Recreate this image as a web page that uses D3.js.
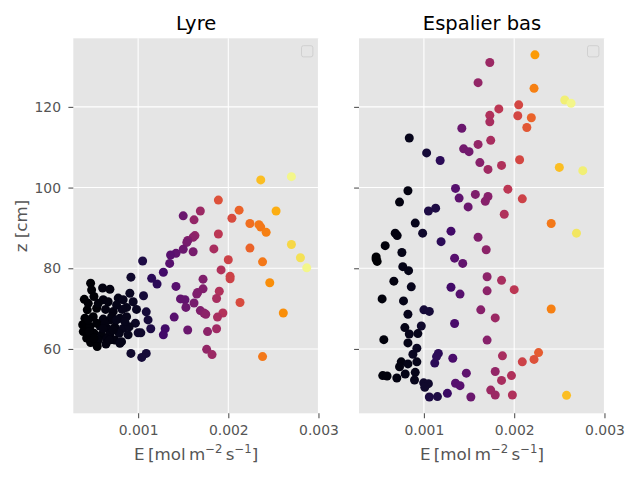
<!DOCTYPE html>
<html><head><meta charset="utf-8">
<script src="https://cdn.jsdelivr.net/npm/d3@7"></script>
<style>body{margin:0;background:#fff}</style>
</head><body><svg id="c" width="640" height="480"></svg>
<script>
// ---- data ----
const titles = ["Lyre", "Espalier bas"];
const xTicks = [0.001, 0.002, 0.003];
const yTicks = [60, 80, 100, 120];
const eDomain = [0.000281, 0.003006];
const zDomain = [44.05, 137.0];

// Lyre: E, z, colour value (0..1)
const lyreE = [0.00236,0.00270,0.00189,0.00169,0.00150,0.00162,0.00212,0.00204,0.00253,0.00224,0.00234,0.00236,0.00242,0.00163,0.00161,0.00155,0.00154,0.00189,0.00150,0.00142,0.00136,0.00161,0.00184,0.00224,0.00270,0.00280,0.00287,0.00238,0.00200,0.00135,0.00105,0.00192,0.00202,0.00202,0.00246,0.00128,0.00092,0.00115,0.00121,0.00172,0.00142,0.00172,0.00166,0.00165,0.00190,0.00187,0.00213,0.00147,0.00152,0.00162,0.00153,0.00169,0.00173,0.00175,0.00194,0.00188,0.00261,0.00140,0.00187,0.00177,0.00155,0.00130,0.00128,0.00114,0.00176,0.00182,0.00238,0.00092,0.00109,0.00104,0.00100,0.00103,0.00097,0.00111,0.00109,0.00106,
0.000473,0.000484,0.000606,0.000687,0.000403,0.000510,0.000613,0.000668,0.000779,0.000834,0.000908,0.000945,0.000872,0.000982,0.000436,0.000540,0.000639,0.000724,0.000823,0.000410,0.000502,0.000613,0.000695,0.000798,0.000872,0.000385,0.000466,0.000576,0.000657,0.000742,0.000834,0.000901,0.000392,0.000510,0.000595,0.000687,0.000790,0.000889,0.000429,0.000558,0.000650,0.000742,0.000816,0.000473,0.000546,0.000643,0.000798,0.000447,0.000558,0.000761,0.000706,0.000447,0.000540,0.000632,0.000761,0.000853,0.000458,0.000724,0.000613,0.000680,0.000510];
const lyreZ = [101.9,102.7,96.9,94.2,93.0,92.0,94.4,92.4,94.2,91.1,90.8,90.2,88.9,88.1,87.7,86.9,86.4,88.5,84.7,83.7,83.3,84.1,84.8,85.0,85.9,82.6,80.1,81.6,82.1,81.2,81.8,79.6,78.0,77.4,76.4,79.0,77.8,77.5,76.1,77.3,75.5,74.9,74.0,73.6,74.3,72.5,71.5,72.4,72.2,71.4,70.3,69.5,68.9,68.6,68.9,67.9,68.9,67.9,65.0,64.3,64.7,65.0,63.5,65.0,59.9,58.6,58.1,58.9,58.9,57.9,64.0,64.0,66.4,67.2,69.2,73.2,
76.3,74.6,75.1,74.8,72.3,73.0,72.2,71.7,72.6,72.2,73.8,71.7,70.3,69.8,69.7,70.1,69.8,69.3,69.8,67.6,68.0,67.4,67.2,67.6,68.0,66.0,65.5,65.7,65.1,65.4,65.1,65.5,64.3,63.9,63.5,63.7,63.9,63.5,62.7,62.2,62.4,62.2,61.8,61.6,60.6,61.2,61.4,71.3,71.3,70.9,68.0,67.2,66.4,66.4,67.2,66.8,64.3,64.7,65.1,62.2,62.7];
const lyreC = [0.85,0.97,0.60,0.42,0.30,0.40,0.65,0.58,0.82,0.68,0.70,0.70,0.72,0.40,0.38,0.35,0.33,0.50,0.30,0.27,0.25,0.33,0.45,0.65,0.90,0.92,0.97,0.70,0.55,0.25,0.12,0.47,0.55,0.55,0.75,0.20,0.08,0.15,0.15,0.35,0.25,0.35,0.35,0.35,0.47,0.45,0.58,0.28,0.28,0.33,0.30,0.35,0.37,0.38,0.48,0.45,0.75,0.25,0.43,0.38,0.30,0.20,0.20,0.12,0.40,0.42,0.70,0.08,0.10,0.10,0.08,0.08,0.07,0.10,0.10,0.10,
0.01,0.01,0.03,0.03,0.00,0.01,0.03,0.03,0.04,0.05,0.06,0.06,0.05,0.06,0.00,0.01,0.03,0.03,0.05,0.00,0.01,0.03,0.03,0.04,0.05,0.00,0.01,0.02,0.03,0.03,0.05,0.05,0.00,0.01,0.02,0.03,0.04,0.05,0.00,0.02,0.03,0.03,0.04,0.01,0.01,0.03,0.04,0.01,0.02,0.04,0.03,0.01,0.01,0.03,0.04,0.05,0.01,0.03,0.03,0.03,0.01];

// Espalier bas: E, z, colour value (0..1)
const espE = [0.00223,0.00173,0.00160,0.00222,0.00256,0.00263,0.00205,0.00183,0.00204,0.00173,0.00173,0.00219,0.00214,0.00142,0.000838,0.00174,0.00160,0.00144,0.00150,0.00103,0.00118,0.00206,0.00162,0.00186,0.00171,0.00250,0.00276,0.000823,0.00135,0.00193,0.00157,0.00139,0.00171,0.00168,0.00209,0.000730,0.00105,0.00113,0.00149,0.00189,0.00241,0.000904,0.00269,0.000682,0.000704,0.000986,0.00130,0.00119,0.00160,0.000571,0.000756,0.00169,0.000471,0.000482,0.000470,0.00134,0.00143,0.000766,0.000830,0.00170,0.00186,0.000667,0.000860,0.00130,0.00140,0.00170,0.00200,0.000537,0.000774,0.00100,0.00106,0.00163,0.00241,0.000823,0.00179,0.00134,0.000971,0.000789,0.000838,0.000933,0.000556,0.000823,0.00170,0.000922,0.000878,0.00116,0.00112,0.00114,0.00132,0.00187,0.00227,0.00222,0.00209,0.000749,0.000730,0.000823,0.000922,0.000793,0.000904,0.000896,0.000544,0.000592,0.000700,0.000997,0.00102,0.00105,0.00101,0.00106,0.00115,0.00126,0.00135,0.00140,0.00147,0.00152,0.00179,0.00197,0.00186,0.00174,0.00179,0.00198,0.00258];
const espZ = [132.9,131.0,126.0,124.6,121.7,120.9,120.5,119.5,117.8,117.9,116.3,117.3,114.9,114.7,112.3,111.7,110.7,109.6,108.9,108.6,106.7,106.9,106.2,105.5,104.5,105.0,104.2,99.2,99.8,99.6,98.3,97.4,97.8,96.6,97.2,96.4,94.2,94.9,95.2,93.4,91.1,91.2,88.7,88.7,88.1,88.7,89.2,86.6,87.7,85.6,83.9,84.6,82.8,81.7,82.3,82.5,81.2,80.4,79.4,77.9,77.0,76.8,75.4,75.3,73.6,74.4,74.7,72.4,71.9,69.7,69.3,69.7,69.9,68.6,67.7,66.3,65.7,65.3,63.7,63.8,62.3,61.5,62.2,60.2,58.7,58.9,56.5,58.1,57.7,58.3,59.1,57.4,56.8,56.8,55.6,56.3,56.8,53.8,54.2,52.3,53.4,53.3,52.8,51.6,51.1,51.4,50.5,48.1,48.2,49.0,51.5,50.9,54.0,48.1,54.4,53.4,52.2,49.8,48.6,48.6,48.5];
const espC = [0.78,0.42,0.40,0.72,0.95,0.97,0.57,0.50,0.57,0.47,0.45,0.65,0.62,0.30,0.05,0.45,0.40,0.32,0.32,0.10,0.15,0.57,0.37,0.47,0.43,0.85,0.95,0.03,0.25,0.50,0.35,0.27,0.37,0.37,0.55,0.03,0.12,0.12,0.30,0.47,0.70,0.05,0.93,0.03,0.03,0.08,0.20,0.15,0.35,0.02,0.04,0.38,0.00,0.00,0.00,0.25,0.28,0.04,0.04,0.38,0.45,0.03,0.05,0.20,0.25,0.38,0.50,0.02,0.04,0.10,0.10,0.37,0.72,0.05,0.42,0.22,0.08,0.04,0.05,0.05,0.02,0.04,0.37,0.06,0.06,0.15,0.15,0.15,0.22,0.45,0.63,0.60,0.55,0.03,0.03,0.04,0.05,0.04,0.05,0.05,0.02,0.02,0.03,0.08,0.08,0.08,0.08,0.12,0.12,0.18,0.25,0.25,0.27,0.30,0.40,0.47,0.45,0.42,0.42,0.47,0.85];

// ---- drawing ----
const svg = d3.select('#c');
const FONT = 'DejaVu Sans, sans-serif';
const plotTop = 38.3, plotBottom = 413.3;
const y = d3.scaleLinear().domain(zDomain).range([plotBottom, plotTop]);
const color = d3.scaleSequential(d3.interpolateInferno).domain([0, 1]);

const panels = [
  {title: titles[0], E: lyreE, Z: lyreZ, C: lyreC, x0: 73.3, x1: 319, showY: true},
  {title: titles[1], E: espE, Z: espZ, C: espC, x0: 359, x1: 605, showY: false}
];

panels.forEach(p => {
  const x = d3.scaleLinear().domain(eDomain).range([p.x0, p.x1]);
  const g = svg.append('g');
  g.append('rect').attr('x', p.x0).attr('y', plotTop)
    .attr('width', p.x1 - p.x0).attr('height', plotBottom - plotTop).attr('fill', '#e5e5e5');
  g.selectAll('line.gx').data(xTicks).join('line').attr('class', 'gx')
    .attr('x1', d => x(d)).attr('x2', d => x(d)).attr('y1', plotTop).attr('y2', plotBottom)
    .attr('stroke', '#fff').attr('stroke-width', 1.1);
  g.selectAll('line.gy').data(yTicks).join('line').attr('class', 'gy')
    .attr('x1', p.x0).attr('x2', p.x1).attr('y1', d => y(d)).attr('y2', d => y(d))
    .attr('stroke', '#fff').attr('stroke-width', 1.1);

  const pts = p.E.map((e, i) => ({e, z: p.Z[i], c: p.C[i]}));
  g.append('g').selectAll('circle').data(pts).join('circle')
    .attr('cx', d => x(d.e)).attr('cy', d => y(d.z)).attr('r', 4.5)
    .attr('fill', d => color(d.c));

  // legend (empty)
  g.append('rect').attr('x', p.x1 - 17.5).attr('y', plotTop + 7.4).attr('width', 11.4).attr('height', 11.2)
    .attr('rx', 2).attr('fill', '#e5e5e5').attr('stroke', '#d0d0d0').attr('stroke-width', 1);

  const xa = g.append('g').attr('transform', `translate(0,${plotBottom})`)
    .call(d3.axisBottom(x).tickValues(xTicks).tickFormat(d3.format('.3f')).tickSize(4.9).tickSizeOuter(0).tickPadding(6.9));
  xa.select('.domain').remove();
  xa.selectAll('line').attr('stroke', '#555').attr('stroke-width', 1.1);
  xa.selectAll('text').attr('fill', '#555').attr('font-size', 13.9).attr('font-family', FONT);

  const ya = g.append('g').attr('transform', `translate(${p.x0},0)`)
    .call(d3.axisLeft(y).tickValues(yTicks).tickFormat(p.showY ? d3.format('d') : () => '').tickSize(4.9).tickSizeOuter(0).tickPadding(7.4));
  ya.select('.domain').remove();
  ya.selectAll('line').attr('stroke', '#555').attr('stroke-width', 1.1);
  ya.selectAll('text').attr('fill', '#555').attr('font-size', 13.9).attr('font-family', FONT);

  const cx = (p.x0 + p.x1) / 2;
  g.append('text').attr('x', cx).attr('y', 29.5).attr('text-anchor', 'middle')
    .attr('font-family', FONT).attr('font-size', 19.5).attr('fill', '#000').text(p.title);

  const xl = g.append('text').attr('x', cx).attr('y', 460).attr('text-anchor', 'middle')
    .attr('font-family', FONT).attr('font-size', 16.7).attr('fill', '#555');
  xl.append('tspan').text('E\u2009[mol\u2009m');
  xl.append('tspan').attr('dy', -7).attr('font-size', 11.7).text('\u22122');
  xl.append('tspan').attr('dy', 7).text('\u2009s');
  xl.append('tspan').attr('dy', -7).attr('font-size', 11.7).text('\u22121');
  xl.append('tspan').attr('dy', 7).text(']');
});

svg.append('text').attr('transform', 'translate(26.5,226) rotate(-90)')
  .attr('text-anchor', 'middle').attr('font-family', FONT).attr('font-size', 16.7)
  .attr('fill', '#555').text('z [cm]');
</script></body></html>
